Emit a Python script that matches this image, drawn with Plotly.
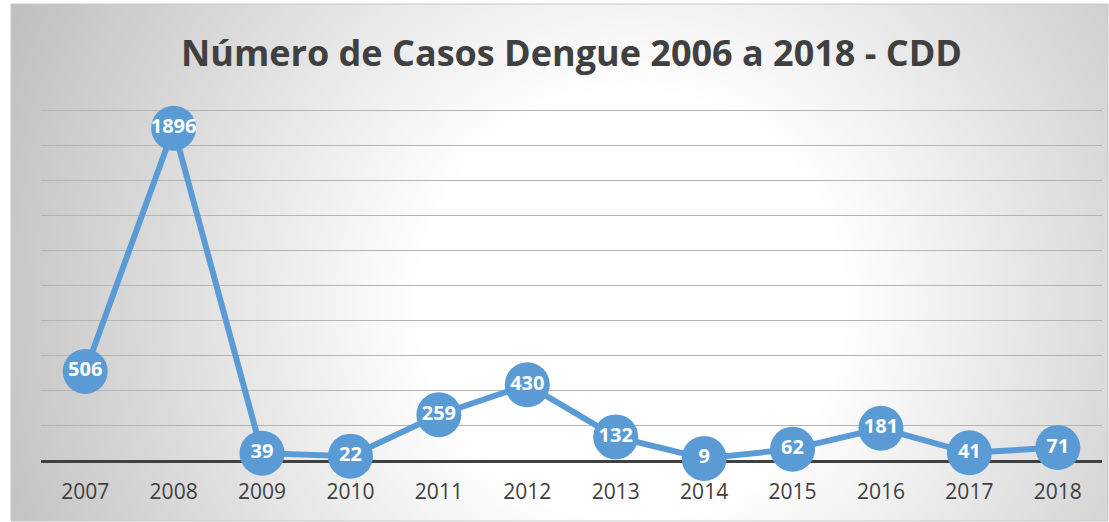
import base64
import plotly.graph_objects as go

years = ["2007", "2008", "2009", "2010", "2011", "2012", "2013", "2014", "2015", "2016", "2017", "2018"]
cases = [506, 1896, 39, 22, 259, 430, 132, 9, 62, 181, 41, 71]
title_text = "Número de Casos Dengue 2006 a 2018 - CDD"

W, H = 1109, 522
L, R, T, B = 41, 7, 106, 62
pw, ph = W - L - R, H - T - B
ymax = 2000 * ph / 350.0  # 2000 sits 350 px above the baseline

def px_to_paper_x(px):
    return (px - L) / pw

def py_to_paper_y(py):
    return (H - B - py) / ph

# frame box in pixels
bx0, bx1, by0, by1 = 11, 1108, 4, 521
bw, bh = bx1 - bx0, by1 - by0

svg = f'''<svg xmlns="http://www.w3.org/2000/svg" width="{bw}" height="{bh}" viewBox="0 0 {bw} {bh}" preserveAspectRatio="none">
<defs><radialGradient id="g" gradientUnits="userSpaceOnUse" cx="620" cy="300" r="700">
<stop offset="0" stop-color="#ffffff"/><stop offset="0.3" stop-color="#ffffff"/><stop offset="1" stop-color="#bdbdbd"/>
</radialGradient></defs><rect x="0" y="0" width="{bw}" height="{bh}" fill="url(#g)"/></svg>'''
src = "data:image/svg+xml;base64," + base64.b64encode(svg.encode()).decode()

fig = go.Figure()
fig.add_trace(go.Scatter(
    x=years, y=cases, mode="lines+markers+text",
    line=dict(color="#5b9bd5", width=6),
    marker=dict(color="#5b9bd5", size=45),
    text=[str(v) for v in cases], textposition="middle center",
    textfont=dict(family="Open Sans", size=20, color="white", weight="bold"),
    cliponaxis=False, hoverinfo="skip", showlegend=False,
))

fig.update_layout(
    width=W, height=H,
    margin=dict(l=L, r=R, t=T, b=B),
    paper_bgcolor="white", plot_bgcolor="rgba(0,0,0,0)",
    title=dict(text=f"<b>{title_text}</b>", x=0.5, xref="paper", y=1 - 53 / H, yanchor="middle",
               font=dict(family="Open Sans", size=36, color="#404040")),
    images=[dict(source=src, xref="paper", yref="paper",
                 x=px_to_paper_x(bx0), y=py_to_paper_y(by0),
                 sizex=bw / pw, sizey=bh / ph, sizing="stretch",
                 xanchor="left", yanchor="top", layer="below")],
    shapes=[dict(type="rect", xref="paper", yref="paper",
                 x0=px_to_paper_x(bx0), x1=px_to_paper_x(bx1),
                 y0=py_to_paper_y(by1), y1=py_to_paper_y(by0),
                 line=dict(color="#c8c8c8", width=1), layer="below")],
    xaxis=dict(type="category", range=[-0.5, 11.5], showgrid=False,
               showline=True, linecolor="#404040", linewidth=3, ticks="",
               ticklabelstandoff=11,
               tickfont=dict(family="Open Sans", size=21, color="#404040"),
               layer="below traces", fixedrange=True),
    yaxis=dict(range=[0, ymax], tick0=0, dtick=200, showticklabels=False, showgrid=True,
               gridcolor="#b4b4b4", gridwidth=1.3, zeroline=False, ticks="",
               layer="below traces", fixedrange=True),
)

fig.write_html("out.html", config={"displayModeBar": False},
               post_script="document.body.style.margin='0';document.body.style.padding='0';")
